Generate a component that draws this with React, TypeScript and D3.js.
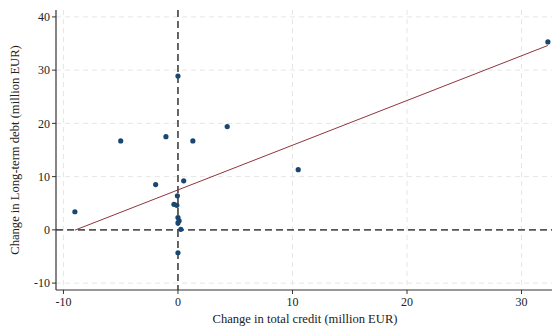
import React from "react";
import * as d3 from "d3";

// change in total credit (x) vs change in long-term debt (y), million EUR
const creditChange = [
  -9.0, -5.0, -1.05, 0, 1.3, 4.3, 10.5, 32.3, -1.95, 0.5, -0.05, -0.35, -0.1, 0, 0.1, 0, 0.25, 0,
];
const debtChange = [
  3.4, 16.7, 17.5, 28.9, 16.7, 19.4, 11.3, 35.3, 8.5, 9.2, 6.4, 4.8, 4.6, 2.3, 1.7, 1.3, 0.1, -4.3,
];

// fitted line
const fitIntercept = 7.5;
const fitSlope = 0.84;

const xTicks = [-10, 0, 10, 20, 30];
const yTicks = [-10, 0, 10, 20, 30, 40];

const W = 552;
const H = 331;
const margin = { top: 10, right: 0, bottom: 41, left: 56 };

export default function App() {
  const x = d3
    .scaleLinear()
    .domain([-10.65, 32.66])
    .range([margin.left, W - margin.right]);
  const y = d3
    .scaleLinear()
    .domain([-11.3, 41.3])
    .range([H - margin.bottom, margin.top]);

  const xMin = d3.min(creditChange) as number;
  const xMax = d3.max(creditChange) as number;
  const fitLine = d3
    .line<number>()
    .x((d) => x(d))
    .y((d) => y(fitIntercept + fitSlope * d));

  const font = "'Liberation Serif', 'DejaVu Serif', serif";
  const axisColor = "#333";
  const x0 = margin.left;
  const yBase = H - margin.bottom;

  return (
    <div style={{ position: "absolute", left: 0, top: 0 }}>
      <svg width={W} height={H} style={{ display: "block", background: "#fff" }}>
        {/* grid */}
        {xTicks
          .filter((t) => t !== 0)
          .map((t) => (
            <line
              key={"gx" + t}
              x1={x(t)}
              x2={x(t)}
              y1={margin.top}
              y2={yBase}
              stroke="#e6e6e6"
              strokeDasharray="5,4"
            />
          ))}
        {yTicks
          .filter((t) => t !== 0)
          .map((t) => (
            <line
              key={"gy" + t}
              x1={x0}
              x2={W}
              y1={y(t)}
              y2={y(t)}
              stroke="#e6e6e6"
              strokeDasharray="5,4"
            />
          ))}

        {/* reference lines */}
        <line
          x1={x(0)}
          x2={x(0)}
          y1={margin.top}
          y2={yBase}
          stroke="#555"
          strokeWidth={1.8}
          strokeDasharray="7,4"
        />
        <line
          x1={x0}
          x2={W}
          y1={y(0)}
          y2={y(0)}
          stroke="#555"
          strokeWidth={1.8}
          strokeDasharray="7,4"
        />

        {/* points */}
        {creditChange.map((c, i) => (
          <circle key={i} cx={x(c)} cy={y(debtChange[i])} r={2.6} fill="#1a476f" />
        ))}

        {/* fit */}
        <path d={fitLine([xMin, xMax]) || ""} fill="none" stroke="#90353b" strokeWidth={1} />

        {/* axes */}
        <line x1={x0} x2={x0} y1={margin.top} y2={yBase} stroke={axisColor} strokeWidth={1.2} />
        <line x1={x0} x2={W} y1={yBase} y2={yBase} stroke={axisColor} strokeWidth={1.2} />
        {yTicks.map((t) => (
          <g key={"ty" + t}>
            <line x1={x0 - 4} x2={x0} y1={y(t)} y2={y(t)} stroke={axisColor} />
            <text
              x={x0 - 6}
              y={y(t)}
              dy="0.35em"
              textAnchor="end"
              fontFamily={font}
              fontSize={12}
              fill="#222"
            >
              {t}
            </text>
          </g>
        ))}
        {xTicks.map((t) => (
          <g key={"tx" + t}>
            <line x1={x(t)} x2={x(t)} y1={yBase} y2={yBase + 4} stroke={axisColor} />
            <text
              x={x(t)}
              y={yBase + 16}
              textAnchor="middle"
              fontFamily={font}
              fontSize={12}
              fill="#222"
            >
              {t}
            </text>
          </g>
        ))}
        <text
          x={305}
          y={323}
          textAnchor="middle"
          fontFamily={font}
          fontSize={12.6}
          fill="#222"
        >
          Change in total credit (million EUR)
        </text>
        <text
          transform={`translate(19,150) rotate(-90)`}
          textAnchor="middle"
          fontFamily={font}
          fontSize={12.6}
          fill="#222"
        >
          Change in Long-term debt (million EUR)
        </text>
      </svg>
    </div>
  );
}
